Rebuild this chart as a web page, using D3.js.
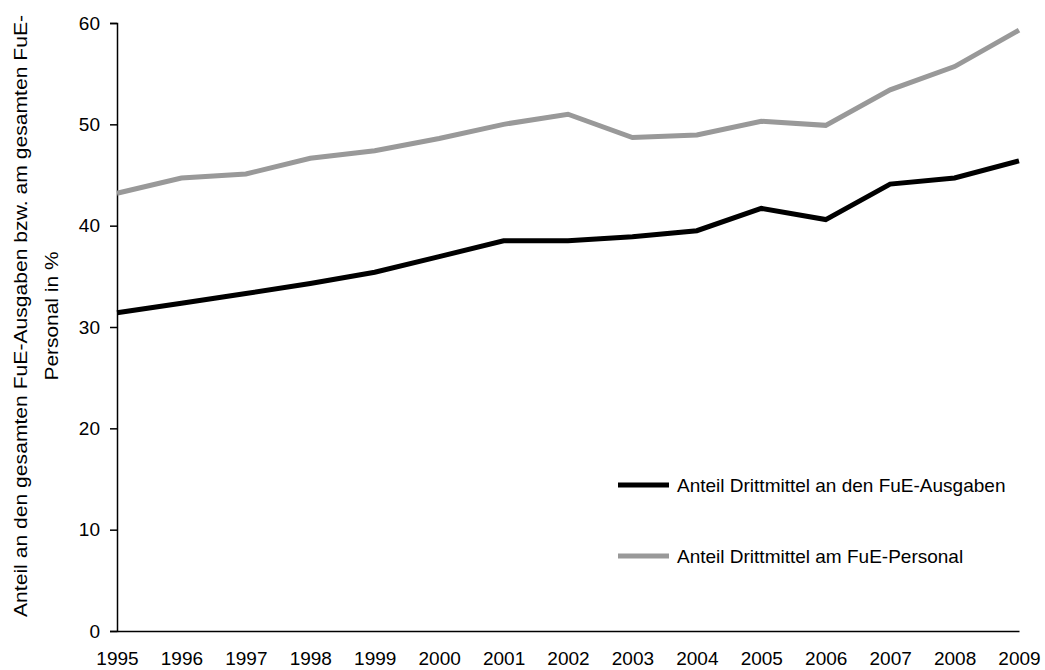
<!DOCTYPE html>
<html>
<head>
<meta charset="utf-8">
<script src="https://cdn.jsdelivr.net/npm/d3@7"></script>
<style>
	body { margin: 0; background: #fff; }
	svg text { font-family: "Liberation Sans", Arial, sans-serif; fill: #000; }
	.axis path, .axis line { stroke: #000; stroke-width: 1.5; }
</style>
</head>
<body>
<svg id="chart" width="1045" height="670"></svg>
<script>
const years = [1995, 1996, 1997, 1998, 1999, 2000, 2001, 2002, 2003, 2004, 2005, 2006, 2007, 2008, 2009];
const ausgaben = [31.4, 32.35, 33.3, 34.3, 35.4, 36.95, 38.5, 38.5, 38.9, 39.5, 41.7, 40.6, 44.1, 44.7, 46.4];
const personal = [43.2, 44.7, 45.1, 46.65, 47.4, 48.6, 50.0, 51.0, 48.7, 48.95, 50.3, 49.9, 53.4, 55.7, 59.3];
const yTicks = [0, 10, 20, 30, 40, 50, 60];
const seriesNames = ["Anteil Drittmittel an den FuE-Ausgaben", "Anteil Drittmittel am FuE-Personal"];
const seriesColors = ["#000000", "#999999"];

const svg = d3.select("#chart");
const margin = {left: 117, top: 23, right: 26, bottom: 39};
const width = +svg.attr("width") - margin.left - margin.right;
const height = +svg.attr("height") - margin.top - margin.bottom;

const g = svg.append("g")
	.attr("transform", "translate(" + margin.left + "," + margin.top + ")");

const x = d3.scaleLinear()
	.domain([years[0], years[years.length - 1]])
	.range([0, width]);

const y = d3.scaleLinear()
	.domain([0, 60])
	.range([height, 0]);

// axes
const yAxis = g.append("g")
	.attr("class", "axis")
	.call(d3.axisLeft(y).tickValues(yTicks).tickSize(7).tickPadding(10));
yAxis.selectAll("text").style("font-size", "19px");

const xAxis = g.append("g")
	.attr("class", "axis")
	.attr("transform", "translate(0," + height + ")")
	.call(d3.axisBottom(x).tickValues(years).tickFormat(d3.format("d")).tickSize(0).tickSizeOuter(0).tickPadding(21));
xAxis.selectAll("text").style("font-size", "19px").attr("dy", "0.71em");

// y label (two lines, like the original wrap)
const yLabel = svg.append("text")
	.attr("transform", "translate(27,316) rotate(-90)")
	.attr("text-anchor", "middle")
	.style("font-size", "18px");
yLabel.append("tspan")
	.attr("x", 0)
	.attr("y", 0)
	.attr("textLength", 602)
	.attr("lengthAdjust", "spacingAndGlyphs")
	.text("Anteil an den gesamten FuE-Ausgaben bzw. am gesamten FuE-");
yLabel.append("tspan")
	.attr("x", 0)
	.attr("y", 30.5)
	.attr("textLength", 129)
	.attr("lengthAdjust", "spacingAndGlyphs")
	.text("Personal in %");

// lines
const line = d3.line()
	.x((d, i) => x(years[i]))
	.y((d) => y(d));

[ausgaben, personal].forEach((s, i) => {
	g.append("path")
		.datum(s)
		.attr("fill", "none")
		.attr("stroke", seriesColors[i])
		.attr("stroke-width", 5)
		.attr("stroke-linejoin", "miter")
		.attr("d", line);
});

// legend
const legend = svg.append("g")
	.attr("class", "legend")
	.attr("transform", "translate(618, 485)");

legend.selectAll("line")
	.data(seriesNames)
	.enter()
	.append("line")
	.attr("x1", 0)
	.attr("x2", 51)
	.attr("y1", (d, i) => i * 71)
	.attr("y2", (d, i) => i * 71)
	.attr("stroke", (d, i) => seriesColors[i])
	.attr("stroke-width", 5);

legend.selectAll("text")
	.data(seriesNames)
	.enter()
	.append("text")
	.attr("x", 59)
	.attr("y", (d, i) => i * 71)
	.attr("dy", "0.35em")
	.style("font-size", "19px")
	.text((d) => d);
</script>
</body>
</html>
